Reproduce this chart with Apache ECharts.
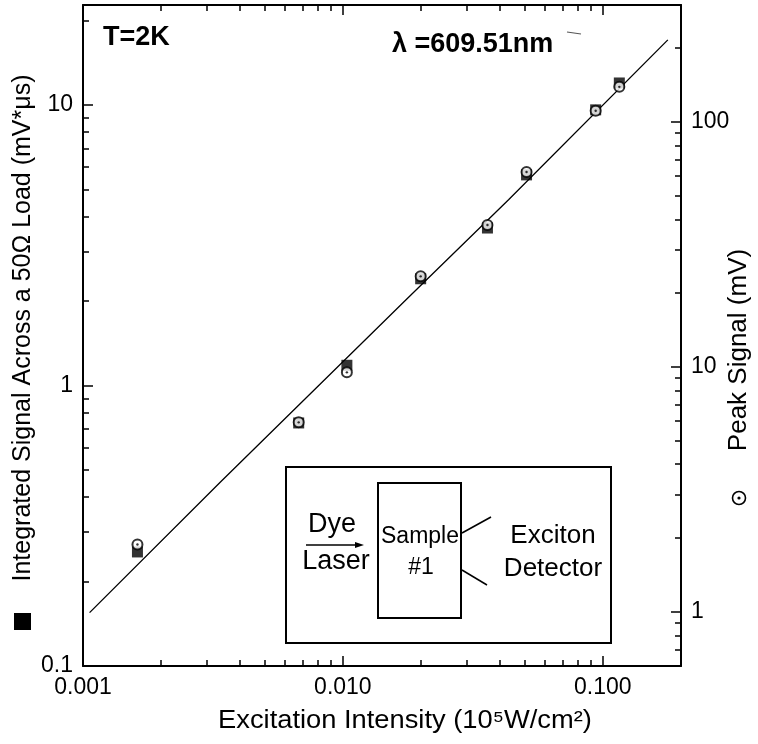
<!DOCTYPE html>
<html><head><meta charset="utf-8">
<script src="https://cdn.jsdelivr.net/npm/echarts@6/dist/echarts.min.js"></script>
<style>html,body{margin:0;padding:0;background:#fff}#c{width:758px;height:744px}</style>
</head><body><div id="c"></div>
<script>
// ---- data ----
const intensity        = [0.00162, 0.00676, 0.01036, 0.01992, 0.0360, 0.0509, 0.0939, 0.1158];
const integratedSignal = [0.255, 0.735, 1.18, 2.40, 3.64, 5.63, 9.60, 11.97];
const peakSignal       = [1.88, 5.93, 9.49, 23.4, 37.9, 62.4, 111, 139];
const fitIntensity     = [0.00106, 0.00338, 0.0175, 0.0434, 0.178];
const fitSignal        = [0.155, 0.453, 2.02, 4.59, 17.05];
const xMajorTicks = [0.001, 0.01, 0.1];
const xMinorTicks = [0.002,0.003,0.004,0.005,0.006,0.007,0.008,0.009,0.02,0.03,0.04,0.05,0.06,0.07,0.08,0.09,0.2];
const yLeftMajorTicks = [0.1, 1, 10];
const yLeftMinorTicks = [0.2,0.3,0.4,0.5,0.6,0.7,0.8,0.9,2,3,4,5,6,7,8,9,20];
const yRightMajorTicks = [1, 10, 100];
const yRightMinorTicks = [0.7,0.8,0.9,2,3,4,5,6,7,8,9,20,30,40,50,60,70,80,90,200,300];

const FONT = '"Liberation Sans", Arial, Helvetica, sans-serif';
const chart = echarts.init(document.getElementById('c'), null, {renderer: 'canvas'});

const xRange = {min: 0.001, max: 0.2};
const yLeftRange = {min: 0.1, max: 22.7};
const yRightRange = {min: 0.6, max: 300};

function axisX(pos, ticks, len, showLine, labels) {
  return Object.assign({
    type: 'log', logBase: 10, position: pos, gridIndex: 0,
    axisLine: {show: showLine, onZero: false, lineStyle: {color: '#000', width: 2}},
    axisTick: {show: true, inside: true, length: len, customValues: ticks, lineStyle: {color: '#000', width: 1.5}},
    axisLabel: labels ? {show: true, customValues: labels, margin: 10, color: '#000', fontSize: 23, fontFamily: FONT,
      formatter: v => Number(v).toFixed(3)} : {show: false},
    splitLine: {show: false}, minorTick: {show: false}
  }, xRange);
}
function axisY(pos, range, ticks, len, showLine, labels, fmt) {
  return Object.assign({
    type: 'log', logBase: 10, position: pos, gridIndex: 0,
    axisLine: {show: showLine, onZero: false, lineStyle: {color: '#000', width: 2}},
    axisTick: {show: true, inside: true, length: len, customValues: ticks, lineStyle: {color: '#000', width: 1.5}},
    axisLabel: labels ? {show: true, customValues: labels, margin: 10, color: '#000', fontSize: 23, fontFamily: FONT,
      formatter: fmt} : {show: false},
    splitLine: {show: false}, minorTick: {show: false}
  }, range);
}
const fmtLeft = v => (v < 0.5 ? '0.1' : String(Math.round(v)));
const fmtRight = v => String(Math.round(v));

function label(text, x, y, size, opts) {
  return Object.assign({type: 'text', x: x, y: y, z: 12,
    style: {text: text, font: size + 'px ' + FONT, fill: '#000', align: 'center', verticalAlign: 'middle'}}, opts || {});
}

const option = {
  backgroundColor: '#fff',
  animation: false,
  grid: {left: 83, top: 5, width: 598, height: 661, show: false},
  xAxis: [
    axisX('bottom', xMajorTicks, 10, true, xMajorTicks),
    axisX('bottom', xMinorTicks, 6, false, null),
    axisX('top', xMajorTicks, 10, true, null),
    axisX('top', xMinorTicks, 6, false, null)
  ],
  yAxis: [
    axisY('left', yLeftRange, yLeftMajorTicks, 10, true, yLeftMajorTicks, fmtLeft),
    axisY('left', yLeftRange, yLeftMinorTicks, 6, false, null),
    axisY('right', yRightRange, yRightMajorTicks, 10, true, yRightMajorTicks, fmtRight),
    axisY('right', yRightRange, yRightMinorTicks, 6, false, null)
  ],
  series: [
    {type: 'line', xAxisIndex: 0, yAxisIndex: 0, data: fitIntensity.map((x, i) => [x, fitSignal[i]]),
     showSymbol: false, symbol: 'none', smooth: false, lineStyle: {color: '#000', width: 1.3}, z: 2, silent: true},
    {type: 'scatter', xAxisIndex: 0, yAxisIndex: 0, data: intensity.map((x, i) => [x, integratedSignal[i]]),
     symbol: 'rect', symbolSize: 11, itemStyle: {color: '#000'}, z: 3},
    {type: 'scatter', xAxisIndex: 0, yAxisIndex: 2, data: intensity.map((x, i) => [x, peakSignal[i]]),
     symbol: 'circle', symbolSize: 10, itemStyle: {color: '#fff', borderColor: '#000', borderWidth: 2}, z: 4},
    {type: 'scatter', xAxisIndex: 0, yAxisIndex: 2, data: intensity.map((x, i) => [x, peakSignal[i]]),
     symbol: 'circle', symbolSize: 2.4, itemStyle: {color: '#000'}, z: 5}
  ],
  graphic: [
    // annotations
    {type: 'text', x: 103, y: 38, style: {text: 'T=2K', font: 'bold 27px ' + FONT, fill: '#000', align: 'left', verticalAlign: 'middle'}},
    {type: 'text', x: 392, y: 45, style: {text: 'λ =609.51nm', font: 'bold 27px ' + FONT, fill: '#000', align: 'left', verticalAlign: 'middle'}},
    {type: 'line', shape: {x1: 567, y1: 32, x2: 581, y2: 34}, style: {stroke: '#555', lineWidth: 1.2}},
    // axis titles
    label('Integrated Signal Across a 50Ω Load (mV*μs)', 23, 328, 25, {rotation: Math.PI / 2}),
    {type: 'rect', shape: {x: 14, y: 613, width: 17, height: 17}, style: {fill: '#000'}},
    label('Peak Signal (mV)', 739, 350, 26, {rotation: Math.PI / 2}),
    {type: 'circle', shape: {cx: 739, cy: 498, r: 6.5}, style: {fill: '#fff', stroke: '#000', lineWidth: 1.6}},
    {type: 'circle', shape: {cx: 739, cy: 498, r: 1.6}, style: {fill: '#000'}},
    label('Excitation Intensity (10⁵W/cm²)', 405, 721, 26, {scaleX: 1.05, originX: 0, originY: 0}),
    // inset schematic
    {type: 'rect', shape: {x: 286, y: 467, width: 325, height: 176}, style: {fill: '#fff', stroke: '#000', lineWidth: 2}, z: 10},
    {type: 'rect', shape: {x: 378, y: 483, width: 83, height: 135}, style: {fill: '#fff', stroke: '#000', lineWidth: 2}, z: 11},
    label('Dye', 332, 525, 27),
    label('Laser', 336, 562, 27),
    {type: 'line', z: 12, shape: {x1: 306, y1: 545, x2: 358, y2: 545}, style: {stroke: '#000', lineWidth: 1.5}},
    {type: 'polygon', z: 12, shape: {points: [[364, 545], [355, 542], [355, 548]]}, style: {fill: '#000'}},
    label('Sample', 420, 537, 23),
    label('#1', 421, 568, 23),
    {type: 'line', z: 12, shape: {x1: 462, y1: 533, x2: 491, y2: 517}, style: {stroke: '#000', lineWidth: 1.5}},
    {type: 'line', z: 12, shape: {x1: 462, y1: 570, x2: 487, y2: 585}, style: {stroke: '#000', lineWidth: 1.5}},
    label('Exciton', 553, 536, 26),
    label('Detector', 553, 569, 26)
  ]
};
chart.setOption(option);
</script></body></html>
